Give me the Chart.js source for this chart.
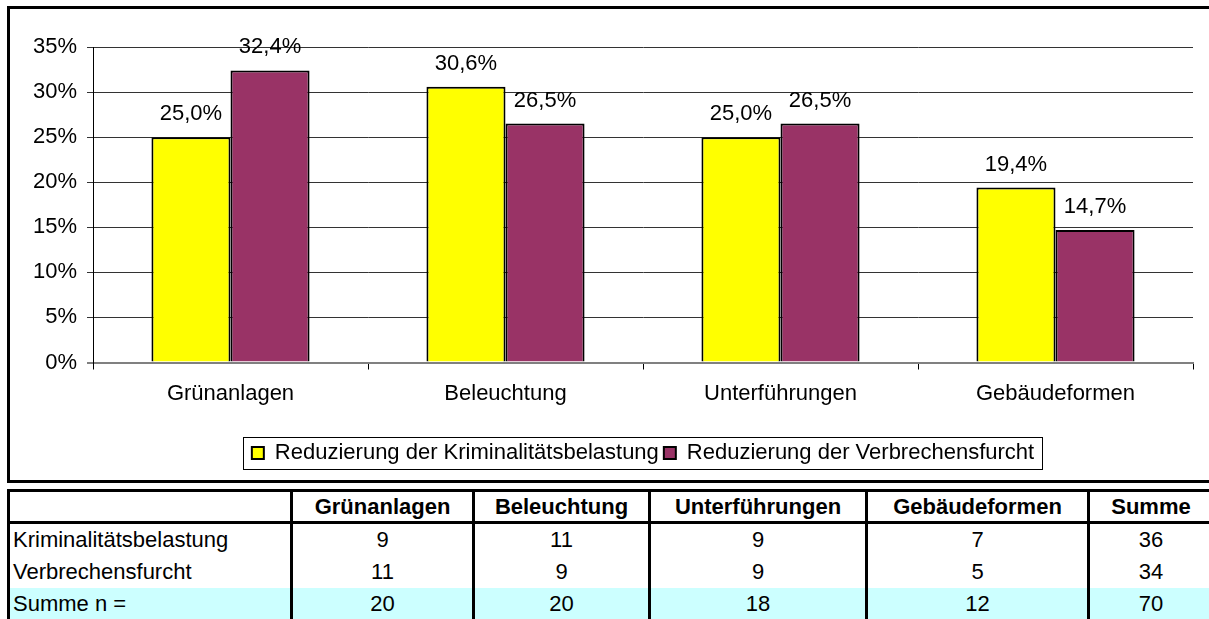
<!DOCTYPE html>
<html>
<head>
<meta charset="utf-8">
<script src="https://cdn.jsdelivr.net/npm/chart.js@4"></script>
<style>
  body { margin: 0; background: #fff; width: 1209px; height: 619px; overflow: hidden; position: relative;
         font-family: "Liberation Sans", Arial, sans-serif; }
  #box { position: absolute; left: 7px; top: 6px; width: 1220px; height: 471px; border: 3px solid #000; box-sizing: content-box; }
  #wrap { position: absolute; left: 0; top: 0; width: 1209px; height: 480px; }
  #tbl { position: absolute; left: 7px; top: 489px; width: 1205px; border-collapse: collapse; table-layout: fixed; font-size: 22px; color: #000; }
  #tbl td, #tbl th { border-left: 3px solid #000; border-right: 3px solid #000; padding: 0 3px; height: 32px; text-align: center; white-space: nowrap; }
  #tbl th { font-weight: bold; border-top: 3px solid #000; border-bottom: 3px solid #000; height: 29px; }
  #tbl td.lbl { text-align: left; }
  #tbl tr.sum td { background: #ccffff; }
</style>
</head>
<body>
<div id="box"></div>
<div id="wrap"><canvas id="myChart" width="1209" height="480"></canvas></div>
<table id="tbl">
  <colgroup>
    <col style="width:283px"><col style="width:182px"><col style="width:176px"><col style="width:217px"><col style="width:222px"><col style="width:125px">
  </colgroup>
  <thead><tr id="head"></tr></thead>
  <tbody id="body"></tbody>
</table>
<script>
// chart data
var categories = ['Grünanlagen', 'Beleuchtung', 'Unterführungen', 'Gebäudeformen'];
var seriesNames = ['Reduzierung der Kriminalitätsbelastung', 'Reduzierung der Verbrechensfurcht'];
var kriminalitaet = [25.0, 30.6, 25.0, 19.4];
var verbrechensfurcht = [32.4, 26.5, 26.5, 14.7];
var yTicks = [0, 5, 10, 15, 20, 25, 30, 35];

// table data
var tableHeader = ['', 'Grünanlagen', 'Beleuchtung', 'Unterführungen', 'Gebäudeformen', 'Summe'];
var rowLabels = ['Kriminalitätsbelastung', 'Verbrechensfurcht', 'Summe n ='];
var countsKrim = [9, 11, 9, 7, 36];
var countsFurcht = [11, 9, 9, 5, 34];
var countsSumme = [20, 20, 18, 12, 70];

/*
# table below the chart
*/
var head = document.getElementById('head');
tableHeader.forEach(function(h){
  var th = document.createElement('th');
  th.textContent = h;
  head.appendChild(th);
});
var body = document.getElementById('body');
[countsKrim, countsFurcht, countsSumme].forEach(function(row, i){
  var tr = document.createElement('tr');
  if (i === 2) tr.className = 'sum';
  var td = document.createElement('td');
  td.className = 'lbl';
  td.textContent = rowLabels[i];
  tr.appendChild(td);
  row.forEach(function(v){
    var c = document.createElement('td');
    c.textContent = v;
    tr.appendChild(c);
  });
  body.appendChild(tr);
});

/*
# bar chart
*/
Chart.defaults.font.family = '"Liberation Sans", Arial, sans-serif';
Chart.defaults.font.size = 22;
Chart.defaults.color = '#000';

var valueLabels = {
  id: 'valueLabels',
  afterDatasetsDraw: function(chart){
    var ctx = chart.ctx;
    ctx.save();
    ctx.font = '22px "Liberation Sans", Arial, sans-serif';
    ctx.fillStyle = '#000';
    ctx.textAlign = 'center';
    ctx.textBaseline = 'alphabetic';
    chart.data.datasets.forEach(function(ds, i){
      chart.getDatasetMeta(i).data.forEach(function(bar, j){
        var txt = ds.data[j].toFixed(1).replace('.', ',') + '%';
        ctx.fillText(txt, bar.x, bar.y - 17);
      });
    });
    ctx.restore();
  }
};

var legendBorder = {
  id: 'legendBorder',
  afterDraw: function(chart){
    var lg = chart.legend;
    if (!lg || !lg.legendHitBoxes.length) return;
    var hb = lg.legendHitBoxes;
    var left = hb[0].left - 9;
    var last = hb[hb.length - 1];
    var right = last.left + last.width + 8;
    var mid = hb[0].top + hb[0].height / 2;
    var ctx = chart.ctx;
    ctx.save();
    ctx.strokeStyle = '#000';
    ctx.lineWidth = 1;
    ctx.strokeRect(Math.round(left) + 0.5, Math.round(mid - 16) + 0.5, Math.round(right - left), 32);
    ctx.restore();
  }
};

var ctx = document.getElementById('myChart').getContext('2d');
var chart = new Chart(ctx, {
  type: 'bar',
  data: {
    labels: categories,
    datasets: [{
      label: seriesNames[0],
      data: kriminalitaet,
      backgroundColor: '#ffff00',
      borderColor: '#000',
      borderWidth: 2
    }, {
      label: seriesNames[1],
      data: verbrechensfurcht,
      backgroundColor: '#993366',
      borderColor: '#000',
      borderWidth: 2
    }]
  },
  options: {
    responsive: false,
    animation: false,
    events: [],
    categoryPercentage: 0.575,
    barPercentage: 1,
    layout: { padding: { left: 10, right: 16, top: 47, bottom: 6 } },
    plugins: {
      tooltip: { enabled: false },
      legend: {
        position: 'bottom',
        fullSize: false,
        labels: { boxWidth: 12, boxHeight: 12, padding: 5, font: { size: 22 } }
      }
    },
    scales: {
      x: {
        afterFit: function(s){ s.height = 74.5; },
        grid: { drawOnChartArea: false, tickLength: 7, color: '#000' },
        border: { color: '#808080', width: 2 },
        ticks: { padding: 11 }
      },
      y: {
        min: 0,
        max: 35,
        afterFit: function(s){ s.width = 83; },
        afterBuildTicks: function(s){ s.ticks = yTicks.map(function(v){ return { value: v }; }); },
        border: { color: '#000', width: 1 },
        grid: {
          tickLength: 6,
          color: function(c){ return c.tick && c.tick.value === 0 ? '#808080' : '#333'; },
          lineWidth: function(c){ return c.tick && c.tick.value === 0 ? 2 : 1; }
        },
        ticks: { padding: 10, callback: function(v){ return v + '%'; } }
      }
    }
  },
  plugins: [valueLabels, legendBorder]
});
</script>
</body>
</html>
